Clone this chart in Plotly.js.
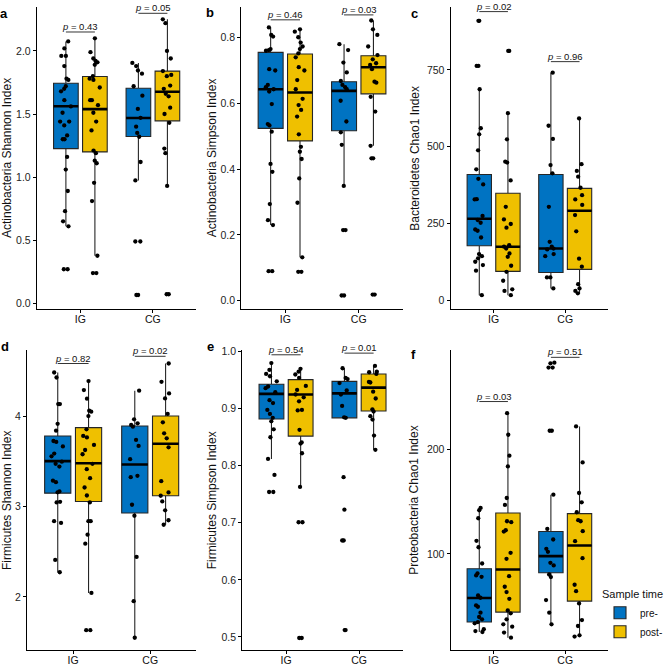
<!DOCTYPE html>
<html><head><meta charset="utf-8">
<script src="https://cdn.plot.ly/plotly-3.0.1.min.js"></script>
<style>html,body{margin:0;padding:0;background:#fff}#chart{width:668px;height:666px}</style>
</head><body><div id="chart"></div>
<script>
// ---------- data ----------
const groups = ['IG', 'CG'];
const timeNames = ['pre-', 'post-'];
// box stats: [lowerfence, q1, median, q3, upperfence]

// a: Actinobacteria Shannon
const a_pre_IG_stats = [0.61, 1.226, 1.561, 1.744, 2.075];
const a_pre_CG_stats = [0.974, 1.322, 1.468, 1.704, 1.905];
const a_post_IG_stats = [0.377, 1.20, 1.539, 1.797, 2.10];
const a_post_CG_stats = [0.93, 1.446, 1.677, 1.84, 2.25];
const a_pre_IG = [2.075, 2.02, 1.96, 1.96, 1.88, 1.78, 1.77, 1.72, 1.70, 1.68, 1.61, 1.56, 1.51, 1.44, 1.44, 1.41, 1.33, 1.30, 1.30, 1.16, 1.06, 0.89, 0.73, 0.65, 0.61, 0.27, 0.27];
const a_pre_CG = [1.905, 1.88, 1.845, 1.82, 1.72, 1.645, 1.54, 1.47, 1.40, 1.35, 1.32, 1.12, 0.974, 0.49, 0.49, 0.066, 0.066];
const a_post_IG = [2.10, 1.99, 1.94, 1.92, 1.91, 1.89, 1.80, 1.78, 1.77, 1.71, 1.61, 1.61, 1.57, 1.51, 1.44, 1.37, 1.21, 1.19, 1.13, 1.11, 0.955, 0.81, 0.377, 0.24, 0.24];
const a_post_CG = [2.25, 2.22, 2.00, 1.94, 1.84, 1.81, 1.80, 1.725, 1.70, 1.66, 1.64, 1.55, 1.50, 1.43, 1.226, 1.19, 0.93, 0.072, 0.072];
const a_pvals = ['0.43', '0.05'];
const a_bracket = [2.15, 2.298];

// b: Actinobacteria Simpson
const b_pre_IG_stats = [0.23, 0.524, 0.643, 0.755, 0.831];
const b_pre_CG_stats = [0.349, 0.517, 0.638, 0.666, 0.78];
const b_post_IG_stats = [0.132, 0.486, 0.633, 0.750, 0.825];
const b_post_CG_stats = [0.471, 0.629, 0.71, 0.745, 0.852];
const b_pre_IG = [0.831, 0.808, 0.803, 0.765, 0.762, 0.760, 0.704, 0.70, 0.656, 0.649, 0.643, 0.636, 0.598, 0.537, 0.533, 0.514, 0.416, 0.392, 0.294, 0.245, 0.23, 0.09, 0.09];
const b_pre_CG = [0.78, 0.762, 0.724, 0.694, 0.668, 0.656, 0.649, 0.643, 0.608, 0.545, 0.512, 0.474, 0.349, 0.215, 0.215, 0.016, 0.016];
const b_post_IG = [0.825, 0.818, 0.801, 0.785, 0.773, 0.765, 0.752, 0.740, 0.710, 0.70, 0.671, 0.643, 0.614, 0.595, 0.58, 0.56, 0.506, 0.468, 0.453, 0.431, 0.372, 0.298, 0.132, 0.088, 0.088];
const b_post_CG = [0.852, 0.825, 0.808, 0.773, 0.747, 0.734, 0.722, 0.717, 0.704, 0.666, 0.663, 0.62, 0.575, 0.471, 0.433, 0.433, 0.019, 0.019];
const b_pvals = ['0.46', '0.03'];
const b_bracket = [0.854, 0.869];

// c: Bacteroidetes Chao1
const c_pre_IG_stats = [16, 177, 265, 409, 687];
const c_pre_CG_stats = [38, 90, 168, 409, 741];
const c_post_IG_stats = [16, 93.5, 174, 348, 609];
const c_post_CG_stats = [22, 100, 291, 364, 592];
const c_pre_IG = [910, 910, 763, 763, 687, 560, 540, 488, 426, 395, 377, 329, 328, 274, 261, 252, 230, 226, 204, 150, 143, 136, 125, 114, 96, 16];
const c_pre_CG = [741, 568, 525, 440, 413, 304, 190, 174, 168, 165, 150, 143, 74, 74, 38];
const c_post_IG = [812, 812, 609, 524, 451, 448, 390, 304, 263, 248, 236, 179, 174, 168, 152, 141, 112, 92, 63, 35, 30, 16];
const c_post_CG = [592, 443, 421, 402, 366, 342, 328, 310, 277, 224, 135, 109, 52, 38, 30, 22];
const c_pvals = ['0.02', '0.96'];
const c_bracket = [940, 777];

// d: Firmicutes Shannon
const d_pre_IG_stats = [2.273, 3.151, 3.506, 3.786, 4.49];
const d_pre_CG_stats = [1.546, 2.93, 3.469, 3.897, 4.288];
const d_post_IG_stats = [2.044, 3.059, 3.483, 3.878, 4.395];
const d_post_CG_stats = [2.80, 3.122, 3.70, 4.007, 4.59];
const d_pre_IG = [4.49, 4.435, 4.14, 4.14, 3.92, 3.845, 3.73, 3.72, 3.67, 3.59, 3.56, 3.50, 3.476, 3.446, 3.29, 3.273, 3.17, 3.16, 3.055, 3.048, 2.84, 2.82, 2.41, 2.273];
const d_pre_CG = [4.288, 3.97, 3.926, 3.908, 3.889, 3.742, 3.675, 3.528, 3.343, 3.328, 3.022, 2.90, 2.443, 1.952, 1.546];
const d_post_IG = [4.395, 4.295, 4.20, 4.066, 4.055, 4.007, 3.86, 3.786, 3.77, 3.686, 3.63, 3.583, 3.476, 3.417, 3.317, 3.214, 3.125, 3.048, 2.84, 2.84, 2.69, 2.59, 2.044, 1.63, 1.63];
const d_post_CG = [4.59, 4.387, 4.258, 4.203, 4.03, 3.937, 3.815, 3.76, 3.66, 3.284, 3.159, 3.122, 3.059, 2.96, 2.85, 2.80];
const d_pvals = ['0.82', '0.02'];
const d_bracket = [4.59, 4.67];

// e: Firmicutes Simpson
const e_pre_IG_stats = [0.812, 0.882, 0.926, 0.943, 0.98];
const e_pre_CG_stats = [0.884, 0.884, 0.927, 0.948, 0.971];
const e_post_IG_stats = [0.763, 0.852, 0.925, 0.951, 0.97];
const e_post_CG_stats = [0.828, 0.896, 0.937, 0.961, 0.975];
const e_pre_IG = [0.98, 0.968, 0.961, 0.957, 0.948, 0.939, 0.936, 0.929, 0.915, 0.910, 0.898, 0.891, 0.884, 0.878, 0.864, 0.850, 0.812, 0.784, 0.754, 0.754];
const e_pre_CG = [0.971, 0.954, 0.952, 0.945, 0.932, 0.925, 0.905, 0.885, 0.884, 0.78, 0.723, 0.669, 0.669, 0.512, 0.512];
const e_post_IG = [0.97, 0.965, 0.96, 0.954, 0.94, 0.933, 0.925, 0.92, 0.913, 0.898, 0.897, 0.863, 0.841, 0.839, 0.822, 0.763, 0.701, 0.701, 0.498, 0.498];
const e_post_CG = [0.975, 0.965, 0.964, 0.961, 0.947, 0.946, 0.930, 0.918, 0.899, 0.895, 0.887, 0.881, 0.853, 0.828];
const e_pvals = ['0.54', '0.01'];
const e_bracket = [0.9946, 0.9975];

// f: Proteobacteria Chao1
const f_pre_IG_stats = [25.4, 34.9, 57.8, 85.7, 143.8];
const f_pre_CG_stats = [32.7, 81.9, 97.8, 121.3, 156.5];
const f_post_IG_stats = [20, 44.4, 85.1, 139, 234.3];
const f_post_CG_stats = [21.6, 54.9, 107.9, 138.4, 221.6];
const f_pre_IG = [143.8, 141.6, 134, 112.4, 106.3, 90.8, 81.3, 79.4, 78.1, 60.3, 58.1, 50.8, 49.5, 43.8, 39.7, 37.5, 34.9, 33.7, 28, 26.3, 25.4];
const f_pre_CG = [282.5, 281.9, 277.8, 277.8, 217.5, 217.5, 156.5, 123.8, 113.7, 104.8, 101.9, 91.4, 88.9, 80.3, 77.8, 55.9, 43.8, 32.7];
const f_post_IG = [234.3, 213.7, 193.7, 183.5, 153.3, 146.7, 131.1, 130.2, 122.5, 121.3, 101, 95.2, 78.7, 68.6, 63.5, 57.1, 46, 43.2, 37.5, 32.7, 30.5, 24.8, 20];
const f_post_CG = [221.6, 187.3, 158.1, 149.2, 139.7, 132.1, 131.1, 121.6, 112.1, 95.9, 70.5, 64.4, 52.7, 36.8, 31.1, 22.2, 21];
const f_pvals = ['0.03', '0.51'];
const f_bracket = [245.4, 287.6];

const yTitles = ['Actinobacteria Shannon Index', 'Actinobacteria Simpson Index', 'Bacteroidetes Chao1 Index',
                 'Firmicutes Shannon Index', 'Firmicutes Simpson Index', 'Proteobacteria Chao1 Index'];
const panelLetters = ['a', 'b', 'c', 'd', 'e', 'f'];

// ---------- layout geometry (pixels) ----------
const W = 668, H = 666;
const FONT = 'Liberation Sans, Arial, Helvetica, sans-serif';
const colors = ['#0073C2', '#EFC000'];
const panels = [
  {pre: [a_pre_IG_stats, a_pre_CG_stats], post: [a_post_IG_stats, a_post_CG_stats], preP: [a_pre_IG, a_pre_CG], postP: [a_post_IG, a_post_CG], p: a_pvals, br: a_bracket,
   xd: [37, 197], yd: [7, 309], yr: [-0.045, 2.348], dtick: 0.5, fmt: '.1f', tx: 7, lx: 4.5, ly: 13.5},
  {pre: [b_pre_IG_stats, b_pre_CG_stats], post: [b_post_IG_stats, b_post_CG_stats], preP: [b_pre_IG, b_pre_CG], postP: [b_post_IG, b_post_CG], p: b_pvals, br: b_bracket,
   xd: [242, 404], yd: [7, 309], yr: [-0.025, 0.893], dtick: 0.2, fmt: '.1f', tx: 213, lx: 211, ly: 12.5},
  {pre: [c_pre_IG_stats, c_pre_CG_stats], post: [c_post_IG_stats, c_post_CG_stats], preP: [c_pre_IG, c_pre_CG], postP: [c_post_IG, c_post_CG], p: c_pvals, br: c_bracket,
   xd: [452, 610], yd: [7, 309], yr: [-29, 955], dtick: 250, fmt: 'd', tx: 416, lx: 416, ly: 13.5},
  {pre: [d_pre_IG_stats, d_pre_CG_stats], post: [d_post_IG_stats, d_post_CG_stats], preP: [d_pre_IG, d_pre_CG], postP: [d_post_IG, d_post_CG], p: d_pvals, br: d_bracket,
   xd: [27, 197], yd: [350, 650], yr: [1.41, 4.74], dtick: 1, fmt: 'd', tx: 7, lx: 5, ly: 346.5},
  {pre: [e_pre_IG_stats, e_pre_CG_stats], post: [e_post_IG_stats, e_post_CG_stats], preP: [e_pre_IG, e_pre_CG], postP: [e_post_IG, e_post_CG], p: e_pvals, br: e_bracket,
   xd: [243, 404], yd: [350, 650], yr: [0.477, 1.003], dtick: 0.1, fmt: '.1f', tx: 213, lx: 211, ly: 346.5},
  {pre: [f_pre_IG_stats, f_pre_CG_stats], post: [f_post_IG_stats, f_post_CG_stats], preP: [f_pre_IG, f_pre_CG], postP: [f_post_IG, f_post_CG], p: f_pvals, br: f_bracket,
   xd: [452, 610], yd: [350, 650], yr: [8.2, 294.6], dtick: 100, fmt: 'd', tx: 415, lx: 415, ly: 354}
];

const BOX_OFF = 0.2, BOX_HW = 0.17;
const traces = [], shapes = [], annotations = [];
const layout = {
  width: W, height: H, margin: {l: 0, r: 0, t: 0, b: 0},
  paper_bgcolor: '#fff', plot_bgcolor: '#fff',
  boxmode: 'group', boxgap: 0.2, boxgroupgap: 0.15,
  font: {family: FONT, color: '#111'},
  showlegend: true,
  legend: {x: 602 / W, y: 1 - 584 / H, xanchor: 'left', yanchor: 'top',
           title: {text: 'Sample time', font: {size: 11, color: '#111'}},
           font: {size: 10, color: '#111'}, bgcolor: 'rgba(0,0,0,0)', tracegroupgap: 0},
  shapes: shapes, annotations: annotations
};

panels.forEach((P, k) => {
  const n = k + 1;
  const xa = 'x' + (n === 1 ? '' : n), ya = 'y' + (n === 1 ? '' : n);
  const xkey = 'xaxis' + (n === 1 ? '' : n), ykey = 'yaxis' + (n === 1 ? '' : n);
  layout[xkey] = {
    domain: [P.xd[0] / W, P.xd[1] / W], anchor: ya, type: 'category',
    categoryorder: 'array', categoryarray: groups, range: [-0.6, 1.6],
    showline: true, linecolor: '#000', linewidth: 1.1, ticks: 'outside', ticklen: 3,
    tickcolor: '#000', tickwidth: 1, tickfont: {size: 10.5, color: '#111', family: FONT},
    ticklabelstandoff: -3,
    showgrid: false, zeroline: false, fixedrange: true
  };
  layout[ykey] = {
    domain: [1 - P.yd[1] / H, 1 - P.yd[0] / H], anchor: xa, range: P.yr,
    dtick: P.dtick, tick0: 0, tickformat: P.fmt,
    showline: true, linecolor: '#000', linewidth: 1.1, ticks: 'outside', ticklen: 3,
    tickcolor: '#000', tickwidth: 1, tickfont: {size: 10.5, color: '#222', family: FONT},
    showgrid: false, zeroline: false, fixedrange: true
  };
  [['pre', 'preP'], ['post', 'postP']].forEach((keys, t) => {
    const st = P[keys[0]], pts = P[keys[1]];
    traces.push({
      type: 'box', name: timeNames[t], legendgroup: timeNames[t], showlegend: n === 1,
      offsetgroup: timeNames[t],
      x: groups,
      lowerfence: st.map(s => s[0]), q1: st.map(s => s[1]), median: st.map(s => s[2]),
      q3: st.map(s => s[3]), upperfence: st.map(s => s[4]),
      y: pts,
      boxpoints: 'all', jitter: 0.5, pointpos: 0, whiskerwidth: 0,
      fillcolor: colors[t], line: {color: '#262626', width: 1.1},
      marker: {color: '#000', size: 4.3, line: {width: 0}},
      xaxis: xa, yaxis: ya, hoverinfo: 'skip'
    });
    // thick median line
    st.forEach((s, gi) => {
      const c = gi + (t === 0 ? -BOX_OFF : BOX_OFF);
      shapes.push({type: 'line', xref: xa, yref: ya, x0: c - BOX_HW, x1: c + BOX_HW, y0: s[2], y1: s[2],
                   line: {color: '#000', width: 2.6}, layer: 'above'});
    });
  });
  // p-value brackets
  P.br.forEach((h, gi) => {
    shapes.push({type: 'line', xref: xa, yref: ya, x0: gi - BOX_OFF, x1: gi + BOX_OFF, y0: h, y1: h,
                 line: {color: '#000', width: 0.8}});
    annotations.push({xref: xa, yref: ya, x: gi, y: h, yanchor: 'bottom', xanchor: 'center', yshift: -2,
                      showarrow: false, text: '<i>p</i> = ' + P.p[gi], font: {size: 9.5, color: '#111', family: FONT}});
  });
  // y-axis title
  annotations.push({xref: 'paper', yref: 'paper', x: P.tx / W, y: 1 - (P.yd[0] + P.yd[1]) / 2 / H,
                    xanchor: 'center', yanchor: 'middle', textangle: -90, showarrow: false,
                    text: yTitles[k], font: {size: 12, color: '#111', family: FONT}});
  // panel letter
  annotations.push({xref: 'paper', yref: 'paper', x: P.lx / W, y: 1 - P.ly / H,
                    xanchor: 'center', yanchor: 'middle', showarrow: false,
                    text: '<b>' + panelLetters[k] + '</b>', font: {size: 13, color: '#000', family: FONT}});
});

Plotly.newPlot('chart', traces, layout, {staticPlot: true, displayModeBar: false});
</script>
</body></html>
